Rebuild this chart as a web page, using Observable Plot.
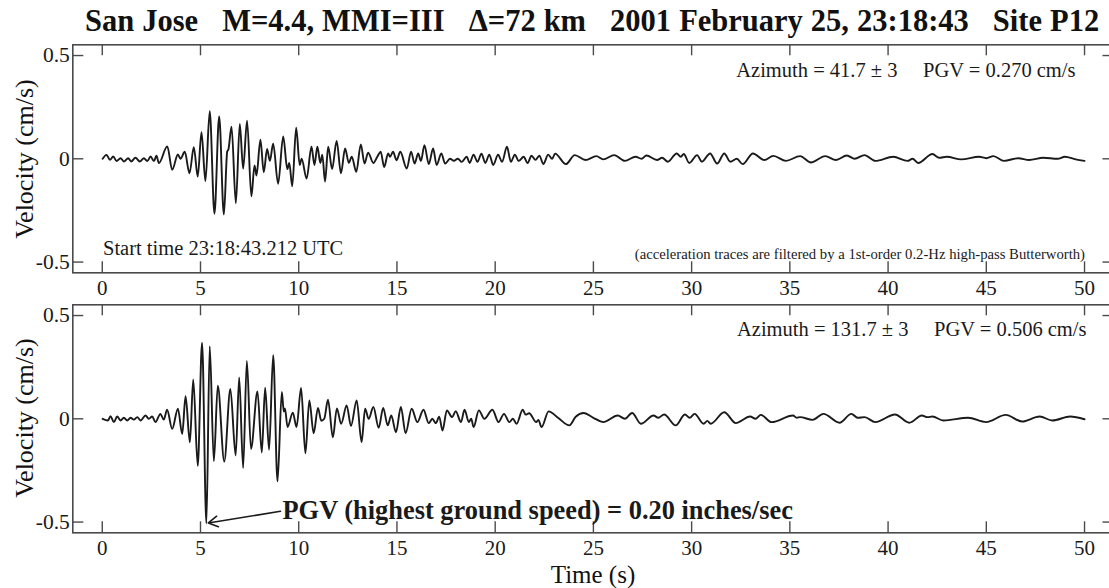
<!DOCTYPE html>
<html><head><meta charset="utf-8">
<script src="https://cdn.jsdelivr.net/npm/d3@7"></script>
<script src="https://cdn.jsdelivr.net/npm/@observablehq/plot@0.6"></script>
<style>
html,body{margin:0;padding:0;overflow:hidden;background:#fff;width:1109px;height:588px}
#wrap{position:relative;width:1130px;height:588px;font-family:"Liberation Serif",serif;color:#111;overflow:hidden}
.abs{position:absolute;white-space:pre}
#title{left:85px;top:6.4px;font-size:30.5px;line-height:30px;font-weight:bold;word-spacing:0.4px}
.ylab{font-size:26px;line-height:26px;transform:translate(-50%,-50%) rotate(-90deg)}
#xlab{left:593px;top:564.5px;font-size:25px;line-height:20px;transform:translateX(-50%)}
#p1{position:absolute;left:0;top:0}
#p2{position:absolute;left:0;top:300px}
</style></head>
<body><div id="wrap">
<div id="p1"></div><div id="p2"></div>
<div id="title" class="abs">San Jose   M=4.4, MMI=III   Δ=72 km   2001 February 25, 23:18:43   Site P12</div>
<div class="abs ylab" style="left:25px;top:159px">Velocity (cm/s)</div>
<div class="abs ylab" style="left:25px;top:418px">Velocity (cm/s)</div>
<div id="xlab" class="abs">Time (s)</div>
</div>
<script>
const xTicks = [0, 5, 10, 15, 20, 25, 30, 35, 40, 45, 50];
const yTicks = [-0.5, 0, 0.5];

const topTime = [0.02,0.22,0.39,0.56,0.73,0.93,1.10,1.32,1.47,1.69,1.91,2.12,2.29,2.46,2.63,2.76,2.88,3.31,3.56,3.85,3.98,4.20,4.44,4.66,4.86,5.05,5.25,5.47,5.71,5.95,6.19,6.36,6.42,6.58,6.80,7.00,7.17,7.37,7.59,7.75,7.85,8.05,8.22,8.39,8.53,8.70,8.95,9.21,9.42,9.52,9.67,9.87,10.05,10.15,10.40,10.65,10.80,10.95,11.10,11.20,11.34,11.50,11.70,11.93,12.15,12.36,12.55,12.70,12.93,13.16,13.35,13.53,13.80,14.00,14.17,14.35,14.55,14.65,14.80,14.98,15.17,15.50,15.72,15.90,16.08,16.22,16.40,16.62,16.84,17.02,17.26,17.45,17.70,17.90,18.10,18.30,18.55,18.70,18.90,19.10,19.30,19.50,19.70,19.90,20.15,20.35,20.60,20.80,21.00,21.20,21.45,21.65,21.85,22.05,22.25,22.45,22.70,22.90,23.05,23.6,24.05,24.6,25.15,25.5,26.06,26.6,27.15,27.45,27.7,28.24,28.5,28.79,29.24,29.45,29.6,29.88,30.28,30.52,30.94,31.3,31.66,31.97,32.3,32.6,33.12,33.7,34.16,34.8,35.52,36.07,36.8,37.35,37.9,38.3,38.8,39.35,40.26,40.99,41.25,41.53,42.26,42.6,42.99,43.72,44.63,45.0,45.36,45.9,46.63,47.18,47.9,48.63,49.0,49.55,50.0];
const topVel = [0,0.019,-0.005,0.011,-0.011,0.003,-0.013,0.003,-0.013,0.005,-0.013,0.003,-0.011,0.011,-0.011,0.015,-0.021,0.06,-0.053,0.021,0.0,0.034,-0.07,0.056,-0.086,0.129,-0.108,0.23,-0.266,0.205,-0.27,0.035,0.045,0.156,-0.215,0.169,-0.048,0.185,-0.182,-0.032,-0.081,0.092,-0.065,0.048,-0.01,0.073,-0.121,0.108,-0.05,-0.02,-0.133,0.15,-0.03,0.0,-0.096,0.058,-0.03,0.058,-0.02,0.02,-0.11,0.058,-0.05,0.087,-0.07,0.05,-0.02,0.01,-0.063,0.07,-0.023,0.03,-0.02,0.01,0.034,-0.04,0.026,0.01,0.034,-0.007,0.034,-0.047,0.034,-0.023,0.026,-0.01,0.066,-0.026,0.05,-0.03,0.026,-0.023,0.0,-0.01,0.0,-0.015,0.01,-0.02,0.02,-0.015,0.025,-0.02,0.02,-0.03,0.02,-0.015,0.058,-0.015,0.02,-0.01,0.01,-0.02,0.015,-0.005,0.015,-0.025,0.02,0.0,0.025,-0.026,0.018,-0.006,0.013,-0.003,0.018,-0.01,0.01,0.0,0.016,-0.006,0.005,-0.014,0.026,0.01,0.023,-0.02,0.018,-0.014,0.026,-0.023,0.026,-0.014,0.0,-0.026,0.026,-0.006,0.014,-0.01,0.013,-0.018,0.013,-0.006,0.016,0.0,0.018,-0.01,0.01,-0.01,0.0,-0.02,0.023,0.005,0.01,-0.003,0.01,0.003,0.013,-0.01,0.003,-0.006,0.005,0.0,0.01,-0.003,-0.01];

const botTime = [0.02,0.29,0.42,0.59,0.76,0.93,1.10,1.27,1.44,1.61,1.78,1.95,2.20,2.37,2.54,2.71,2.96,3.13,3.30,3.56,3.85,4.07,4.24,4.46,4.63,4.86,5.08,5.30,5.47,5.68,5.88,6.21,6.52,6.79,6.97,7.17,7.36,7.57,7.90,8.12,8.29,8.49,8.70,8.92,9.14,9.24,9.30,9.43,9.70,9.89,10.12,10.34,10.54,10.76,10.98,11.15,11.30,11.49,11.74,11.94,12.16,12.44,12.66,12.95,13.20,13.38,13.56,13.80,14.07,14.30,14.53,14.71,14.95,15.20,15.44,15.75,16.04,16.35,16.62,16.80,16.98,17.15,17.32,17.54,17.81,17.99,18.26,18.44,18.66,18.78,18.90,19.17,19.45,19.86,20.17,20.45,20.72,20.9,21.09,21.4,21.55,21.73,22.09,22.2,22.36,22.72,23.2,23.78,24.1,24.51,25.0,25.51,26.24,26.6,26.97,27.42,28.06,28.3,28.6,29.19,29.66,29.9,30.15,30.61,30.8,30.97,31.66,32.25,32.98,33.25,33.52,34.07,35.16,35.35,35.52,36.16,36.71,37.53,38.13,38.45,38.8,39.35,40.35,41.08,41.72,42.0,42.26,42.81,44.08,44.99,45.99,46.81,47.72,48.36,49.27,50.0];
const botVel = [0,-0.008,0.013,-0.016,0.011,-0.008,0.005,-0.008,0.005,-0.004,0.008,-0.008,0.016,0.0,0.011,-0.016,0.024,-0.004,0.044,-0.049,0.049,-0.073,0.109,-0.114,0.19,-0.228,0.368,-0.506,0.352,-0.205,0.16,-0.207,0.144,-0.178,0.2,-0.238,0.28,-0.146,0.132,-0.163,0.15,-0.15,0.308,-0.303,0.13,0.035,0.05,-0.04,0.03,-0.04,0.149,-0.167,0.089,-0.07,0.053,-0.01,0.0,0.092,-0.09,0.05,-0.024,0.065,-0.035,0.089,-0.113,0.049,0.0,0.057,-0.044,0.053,-0.032,0.016,-0.065,0.057,-0.07,0.049,-0.016,0.044,-0.021,0.0,-0.021,0.01,-0.057,0.041,0.008,0.037,-0.016,0.044,-0.016,0.0,-0.04,0.041,0.0,0.044,-0.016,0.024,-0.016,0.0,-0.024,0.044,0.02,0.027,-0.016,-0.005,-0.04,0.036,0.005,-0.032,0.01,0.028,0.005,-0.016,0.016,0.0,0.028,-0.024,0.016,0.005,0.021,-0.032,0.021,0.005,0.024,-0.024,-0.01,-0.024,0.032,-0.021,0.011,0.0,0.019,-0.016,0.016,0.005,0.008,-0.005,0.024,-0.019,0.024,0.005,0.008,-0.016,0.021,-0.019,0.016,0.008,0.011,-0.008,0.005,-0.016,0.019,-0.013,0.011,-0.008,0.011,-0.002];

const topLabel = "Azimuth = 41.7 ± 3     PGV = 0.270 cm/s";
const botLabel = "Azimuth = 131.7 ± 3     PGV = 0.506 cm/s";
const startLabel = "Start time 23:18:43.212 UTC";
const filterLabel = "(acceleration traces are filtered by a 1st-order 0.2-Hz high-pass Butterworth)";
const pgvLabel = "PGV (highest ground speed) = 0.20 inches/sec";

const W = 1130, H = 300;
const mL = 72.3, mR = W - 1113.5;
const frameH = 228, frameW = W - mL - mR, tickLen = 11;
const ink = "#1a1a1a", frameInk = "#4a4a4a";

function panel(time, vel, mTop, mBottom, extra) {
  const rows = time.map((t, i) => ({t, v: vel[i]}));
  return Plot.plot({
    width: W, height: H,
    marginLeft: mL, marginRight: mR, marginTop: mTop, marginBottom: mBottom,
    style: {fontFamily: "Liberation Serif, serif", fontSize: "21px", background: "transparent", color: ink, overflow: "visible"},
    x: {domain: [-1.5, 51.5]},
    y: {domain: [-0.552, 0.552]},
    marks: [
      Plot.frame({stroke: frameInk, strokeWidth: 1.6}),
      Plot.tickX(xTicks, {x: d => d, insetTop: frameH - tickLen, stroke: frameInk, strokeWidth: 1.4}),
      Plot.tickX(xTicks, {x: d => d, insetBottom: frameH - tickLen, stroke: frameInk, strokeWidth: 1.4}),
      Plot.tickY(yTicks, {y: d => d, insetRight: frameW - tickLen, stroke: frameInk, strokeWidth: 1.4}),
      Plot.tickY(yTicks, {y: d => d, insetLeft: frameW - tickLen, stroke: frameInk, strokeWidth: 1.4}),
      Plot.axisX({ticks: xTicks, tickSize: 0, tickPadding: 7.5, tickFormat: d => String(d), label: null, fontSize: 21}),
      Plot.axisY({ticks: yTicks, tickSize: 0, tickPadding: 3, tickFormat: d => String(d), label: null, fontSize: 21.5}),
      Plot.line(rows, {x: "t", y: "v", curve: "monotone-x", stroke: ink, strokeWidth: 1.9}),
      ...extra(rows)
    ]
  });
}

const p1 = panel(topTime, topVel, 44.3, H - 272.3, () => [
  Plot.text([topLabel], {text: d => d, frameAnchor: "top-right", textAnchor: "end", lineAnchor: "bottom", dx: -38.5, dy: 32.2, fontSize: 20.5}),
  Plot.text([startLabel], {text: d => d, frameAnchor: "bottom-left", textAnchor: "start", lineAnchor: "bottom", dx: 30.2, dy: -17.3, fontSize: 20.5}),
  Plot.text([filterLabel], {text: d => d, frameAnchor: "bottom-right", textAnchor: "end", lineAnchor: "bottom", dx: -29, dy: -14, fontSize: 14.7})
]);

const p2 = panel(botTime, botVel, 4.3, H - 232.3, (rows) => {
  const pgv = d3.least(rows, d => d.v);
  return [
    Plot.text([botLabel], {text: d => d, frameAnchor: "top-right", textAnchor: "end", lineAnchor: "bottom", dx: -27.5, dy: 30.7, fontSize: 20.5}),
    Plot.text([pgvLabel], {text: d => d, frameAnchor: "bottom-left", textAnchor: "start", lineAnchor: "bottom", dx: 209.7, dy: -14.3, fontSize: 26.4, fontWeight: "bold"}),
    Plot.arrow([pgv], {x1: 9.07, y1: -0.448, x2: d => d.t, y2: d => d.v, insetEnd: 2, stroke: ink, strokeWidth: 1.6, headLength: 10})
  ];
});

document.getElementById("p1").appendChild(p1);
document.getElementById("p2").appendChild(p2);
</script>
</body></html>
